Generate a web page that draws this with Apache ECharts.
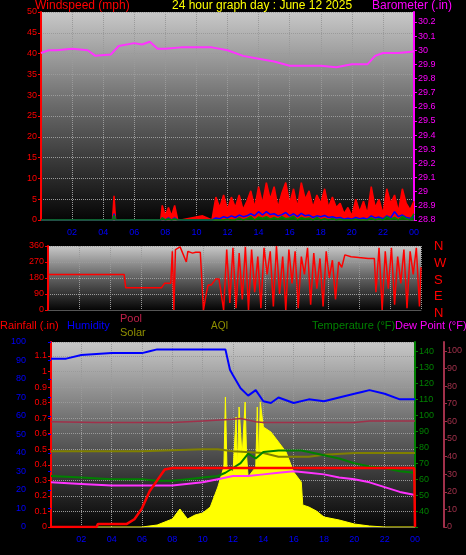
<!DOCTYPE html>
<html>
<head>
<meta charset="UTF-8" />
<title>24 hour graph</title>
<script src="https://cdn.jsdelivr.net/npm/echarts@6/dist/echarts.min.js"></script>
<style>
  body { margin: 0; background: #000; }
  #main { width: 466px; height: 555px; }
</style>
</head>
<body>
<div id="main"></div>
<script>
// ---- top panel: wind + barometer ----
var windTimes = [0, 4.6, 4.7, 4.8, 7.7, 7.8, 8.0, 8.2, 8.4, 8.6, 8.8, 9.0, 10.4, 11.0,
  11.25, 11.5, 11.75, 12, 12.25, 12.5, 12.75, 13, 13.25, 13.5, 13.75, 14, 14.25, 14.5, 14.75,
  15, 15.25, 15.5, 15.75, 16, 16.25, 16.5, 16.75, 17, 17.25, 17.5, 17.75, 18, 18.25, 18.5,
  18.75, 19, 19.25, 19.5, 19.75, 20, 20.25, 20.5, 20.75, 21, 21.25, 21.5, 21.75, 22, 22.25,
  22.5, 22.75, 23, 23.25, 23.5, 23.75, 24];
var windGust = [0, 0, 5.8, 0, 0, 3.5, 1, 3, 1, 3.5, 0, 0, 1, 0,
  5.5, 3, 6, 2.5, 5.5, 3, 6, 2.5, 4.5, 7, 3, 8, 4, 9, 5,
  8, 3, 6.5, 9, 4, 7.5, 3, 9, 5, 7, 3, 6, 4, 7.5, 3,
  5.5, 3, 4, 1.5, 3, 1, 5, 2, 4.5, 1.5, 8, 3, 5, 1.5, 7.5,
  4, 6, 2, 7.5, 4, 2.5, 4.5];
var windAvg = [0, 0, 1.5, 0, 0, 0.5, 0, 0.5, 0, 0.5, 0, 0, 0, 0,
  0.5, 0.3, 0.8, 0.5, 1, 0.6, 1.2, 0.8, 1, 1.5, 1, 2, 1.2, 2, 1.3,
  1.5, 1, 1.3, 1.8, 1, 1.5, 0.8, 1.6, 1, 1.2, 0.6, 1, 0.8, 1.1, 0.6,
  0.8, 0.5, 0.6, 0.2, 0.4, 0.2, 0.6, 0.3, 0.5, 0.2, 1, 0.5, 0.7, 0.3, 1,
  0.5, 2, 0.8, 1.2, 0.6, 0.4, 0.8];
var windLow = [0, 0, 1.2, 0, 0, 0.5, 0, 0.3, 0, 0.3, 0, 0, 0, 0,
  0, 0, 0, 0.2, 0, 0, 0.5, 0, 0.3, 0.8, 0, 0.7, 0.4, 0.8, 0.2,
  0.6, 0.2, 0.8, 0.3, 0.5, 0.9, 0, 0.6, 0.3, 0.5, 0, 0.6, 0, 0.3, 0,
  0.4, 0, 0.2, 0, 0, 0, 0.2, 0, 0, 0, 0.5, 0, 0.3, 0, 0.8,
  0.2, 0.6, 0, 0.9, 0.3, 0, 1.5];
var baroTimes = [0, 0.5, 1, 2, 3, 3.5, 4.5, 5, 6, 6.5, 7, 7.5, 8, 9, 10, 11, 12, 13, 14,
  15, 16, 17, 18, 19, 20, 21, 21.5, 22, 23, 24];
var baroValues = [29.98, 30.0, 30.0, 30.01, 30.0, 29.96, 29.97, 30.03, 30.05, 30.04, 30.06,
  30.01, 30.01, 30.02, 30.02, 30.02, 30.0, 29.96, 29.94, 29.92, 29.89, 29.89, 29.89, 29.88,
  29.9, 29.9, 29.96, 29.98, 29.98, 29.99];

// ---- middle panel: wind direction ----
var dirTimes = [0, 4.9, 5.0, 7.3, 7.5, 7.9, 8.0, 8.1, 8.2, 8.5, 8.9, 9.0, 9.3, 9.5, 9.8,
  10.0, 10.2, 10.3, 10.5, 10.8, 11.0, 11.3, 11.5, 11.7, 11.9, 12.1, 12.3, 12.5, 12.7, 12.9,
  13.1, 13.3, 13.5, 13.7, 13.9, 14.1, 14.3, 14.5, 14.7, 14.9, 15.1, 15.3, 15.5, 15.7, 15.9,
  16.1, 16.3, 16.5, 16.7, 16.9, 17.1, 17.3, 17.5, 17.7, 17.9, 18.1, 18.3, 18.5, 18.7, 18.9,
  19.1, 19.5, 20.0, 20.6, 21.0, 21.1, 21.3, 21.5, 21.7, 21.9, 22.1, 22.3, 22.5, 22.7, 22.9,
  23.1, 23.3, 23.5, 23.7, 23.9, 24.0];
var dirValues = [200, 200, 125, 125, 150, 150, 330, 0, 340, 355, 270, 330, 320, 325, 325,
  0, 100, 140, 140, 175, 175, 0, 340, 40, 350, 10, 320, 60, 355, 0,
  340, 100, 300, 10, 350, 200, 330, 20, 360, 90, 300, 0, 340, 150, 330,
  10, 300, 200, 350, 30, 320, 120, 290, 20, 330, 180, 280, 60, 270, 240,
  310, 300, 295, 290, 290, 100, 350, 0, 330, 120, 350, 30, 300, 150, 340,
  10, 330, 200, 350, 20, 240];

// ---- bottom panel ----
var humTimes = [0, 1, 2, 4, 6, 6.5, 7, 11.5, 11.8, 12, 12.5, 13, 13.5, 14, 14.5, 15, 16,
  17, 18, 19, 20, 20.5, 21, 22, 23, 24];
var humValues = [91, 91, 93, 94, 94, 95, 96, 96, 85, 82, 75, 71, 74, 68, 67, 70, 67,
  69, 68, 70, 72, 73, 74, 72, 69, 69];
var rainTimes = [0, 3.0, 3.1, 5.0, 5.5, 6.0, 6.5, 7.0, 7.5, 8.0, 23.95, 24];
var rainValues = [0, 0, 0.02, 0.02, 0.05, 0.12, 0.23, 0.3, 0.37, 0.38, 0.38, 0];
var tempTimes = [0, 2, 4, 6, 7, 8, 9, 10, 11, 11.5, 12, 12.5, 13, 13.5, 14, 15, 16, 16.5,
  17, 18, 19, 20, 21, 22, 23, 24];
var tempValues = [62, 61, 60, 60, 59, 59, 60, 61, 62, 64, 67, 70, 76, 73, 77, 78, 78, 78,
  77, 75, 73, 70, 68, 67, 65, 64];
var dewTimes = [0, 2, 4, 6, 8, 10, 11, 12, 13, 14, 15, 16, 17, 18, 19, 20, 20.5, 21, 22,
  23, 24];
var dewValues = [58, 57, 56, 56, 56, 58, 60, 62, 62, 63, 64, 65, 64, 63, 61, 60, 59, 58,
  55, 52, 50];
var poolTimes = [0, 3, 8, 10, 12, 12.5, 13.5, 14, 20, 21, 24];
var poolValues = [96, 95.5, 95.5, 96.5, 97.5, 98, 96, 95.5, 95.5, 96.5, 96.5];
var aqiTimes = [0, 2, 4, 6, 8, 10, 11, 12, 14, 15, 17, 18, 20, 22, 24];
var aqiValues = [41, 41, 41, 41, 41.5, 42, 42, 41, 40, 38, 38, 39, 40, 40, 40];
var solarTimes = [0, 6, 7, 8, 8.5, 9, 9.5, 10, 10.5, 11, 11.4, 11.5, 11.6, 12, 12.2, 12.3,
  12.4, 12.6, 12.8, 12.9, 13, 13.5, 13.6, 13.7, 13.8, 14, 14.5, 15, 15.5, 16, 16.5, 16.6,
  17, 17.5, 18, 19, 20, 21, 22, 24];
var solarValues = [0, 0, 2, 8, 18, 8, 12, 14, 20, 40, 60, 130, 60, 55, 110, 60, 120, 70,
  125, 70, 50, 60, 120, 60, 125, 100, 95, 85, 75, 55, 45, 22, 20, 16, 10, 7, 3, 1, 0, 0];

function pairs(t, v) { return t.map(function (x, i) { return [x, v[i]]; }); }
function hourLabel(v) {
  if (v === 0) return "";
  var h = v % 24;
  return (h < 10 ? "0" : "") + h;
}

var bg = {
  type: "linear", x: 0, y: 0, x2: 0, y2: 1,
  colorStops: [{ offset: 0, color: "#c8c8c8" }, { offset: 0.45, color: "#6a6a6a" }, { offset: 1, color: "#050505" }]
};
var split = { show: true, lineStyle: { color: "#9a9a9a", type: "dotted", width: 1 } };
var fnt = "Liberation Sans, Arial, sans-serif";

function yAx(o) {
  var base = {
    type: "value",
    axisLine: { show: true, lineStyle: { color: o.color, width: 2 } },
    axisTick: { show: true, length: 3, lineStyle: { color: o.color } },
    axisLabel: { color: o.color, fontSize: 9, fontFamily: fnt, margin: 4, showMaxLabel: false },
    splitLine: { show: false }
  };
  return Object.assign(base, o.opts);
}

var xBase = {
  type: "value", min: 0, max: 24, interval: 2,
  axisLine: { show: true, lineStyle: { color: "#555" } },
  axisTick: { show: false },
  splitLine: split
};

var chart = echarts.init(document.getElementById("main"));
chart.setOption({
  backgroundColor: "#000",
  animation: false,
  textStyle: { fontFamily: fnt },
  graphic: [
    { type: "text", left: 35, top: 0, style: { text: "Windspeed (mph)", fill: "#ff0000", font: "12px " + fnt } },
    { type: "text", left: 172, top: 0, style: { text: "24 hour graph day : June 12 2025", fill: "#ffff00", font: "12px " + fnt } },
    { type: "text", left: 372, top: 0, style: { text: "Barometer (.in)", fill: "#ff00ff", font: "12px " + fnt } },
    { type: "text", left: 434, top: 238, style: { text: "N\nW\nS\nE\nN", fill: "#ff0000", font: "13px " + fnt, lineHeight: 16.8 } },
    { type: "text", left: 0, top: 320, style: { text: "Rainfall (.in)", fill: "#ff0000", font: "11px " + fnt } },
    { type: "text", left: 67, top: 320, style: { text: "Humidity", fill: "#0000ff", font: "11px " + fnt } },
    { type: "text", left: 120, top: 313, style: { text: "Pool", fill: "#c0204a", font: "11px " + fnt } },
    { type: "text", left: 120, top: 327, style: { text: "Solar", fill: "#909000", font: "11px " + fnt } },
    { type: "text", left: 211, top: 321, style: { text: "AQI", fill: "#909000", font: "10px " + fnt } },
    { type: "text", left: 312, top: 320, style: { text: "Temperature (°F)", fill: "#008000", font: "11px " + fnt } },
    { type: "text", left: 395, top: 320, style: { text: "Dew Point (°F)", fill: "#ff00ff", font: "11px " + fnt } }
  ],
  grid: [
    { left: 41, width: 373, top: 12, height: 208, show: true, borderWidth: 0, backgroundColor: bg },
    { left: 48, width: 373, top: 246, height: 64, show: true, borderWidth: 0, backgroundColor: bg },
    { left: 51, width: 364, top: 342, height: 185, show: true, borderWidth: 0, backgroundColor: bg }
  ],
  xAxis: [
    Object.assign({}, xBase, { gridIndex: 0, axisLabel: { color: "#0000ff", fontSize: 9, margin: 8, formatter: hourLabel } }),
    Object.assign({}, xBase, { gridIndex: 1, axisLabel: { show: false } }),
    Object.assign({}, xBase, { gridIndex: 2, axisLabel: { color: "#0000ff", fontSize: 9, margin: 8, formatter: hourLabel } })
  ],
  yAxis: [
    yAx({ color: "#ff0000", opts: { gridIndex: 0, position: "left", min: 0, max: 50, interval: 5, splitLine: split,
      axisLabel: { color: "#ff0000", fontSize: 9, margin: 4 } } }),
    yAx({ color: "#ff00ff", opts: { gridIndex: 0, position: "right", min: 28.8, max: 30.27, interval: 0.1,
      axisLabel: { color: "#ff00ff", fontSize: 9, margin: 4, showMaxLabel: false,
        formatter: function (v) { return +v.toFixed(1) + ""; } } } }),
    yAx({ color: "#ff0000", opts: { gridIndex: 1, position: "left", min: 0, max: 360, interval: 90, splitLine: split,
      axisLabel: { color: "#ff0000", fontSize: 9, margin: 4 } } }),
    yAx({ color: "#0000ff", opts: { gridIndex: 2, position: "left", min: 0, max: 100, interval: 10, offset: 21,
      axisLabel: { color: "#0000ff", fontSize: 9, margin: 4 } } }),
    yAx({ color: "#ff0000", opts: { gridIndex: 2, position: "left", min: 0, max: 1.19, interval: 0.1, splitLine: split,
      axisLabel: { color: "#ff0000", fontSize: 9, margin: 4, showMaxLabel: false,
        formatter: function (v) { return +v.toFixed(1) + ""; } } } }),
    yAx({ color: "#008000", opts: { gridIndex: 2, position: "right", min: 30, max: 146, interval: 10,
      axisLabel: { color: "#008000", fontSize: 9, margin: 4, showMaxLabel: false,
        formatter: function (v) { return v < 40 ? "" : v; } } } }),
    yAx({ color: "#a0304a", opts: { gridIndex: 2, position: "right", offset: 29, min: 0, max: 105, interval: 10,
      axisLabel: { color: "#a0304a", fontSize: 9, margin: 3, showMaxLabel: false } } }),
    { type: "value", gridIndex: 2, position: "right", min: 0, max: 185, show: false }
  ],
  series: [
    { type: "line", xAxisIndex: 0, yAxisIndex: 0, data: pairs(windTimes, windGust), symbol: "none",
      lineStyle: { color: "#ff0000", width: 1.5 }, areaStyle: { color: "#ff0000", opacity: 1 } },
    { type: "line", xAxisIndex: 0, yAxisIndex: 0, data: pairs(windTimes, windAvg), symbol: "none",
      lineStyle: { color: "#0000ff", width: 1.5 } },
    { type: "line", xAxisIndex: 0, yAxisIndex: 0, data: pairs(windTimes, windLow), symbol: "none",
      lineStyle: { color: "#008000", width: 1.5 }, areaStyle: { color: "#007000", opacity: 1 } },
    { type: "line", xAxisIndex: 0, yAxisIndex: 1, data: pairs(baroTimes, baroValues), symbol: "none",
      lineStyle: { color: "#ff33ff", width: 2 } },
    { type: "line", xAxisIndex: 1, yAxisIndex: 2, data: pairs(dirTimes, dirValues), symbol: "none",
      lineStyle: { color: "#ff0000", width: 1.5 } },
    { type: "line", xAxisIndex: 2, yAxisIndex: 7, data: pairs(solarTimes, solarValues), symbol: "none",
      lineStyle: { color: "#ffff00", width: 1 }, areaStyle: { color: "#ffff00", opacity: 1 } },
    { type: "line", xAxisIndex: 2, yAxisIndex: 3, data: pairs(aqiTimes, aqiValues), symbol: "none",
      lineStyle: { color: "#808000", width: 2 } },
    { type: "line", xAxisIndex: 2, yAxisIndex: 5, data: pairs(poolTimes, poolValues), symbol: "none",
      lineStyle: { color: "#a0304a", width: 1.5 } },
    { type: "line", xAxisIndex: 2, yAxisIndex: 5, data: pairs(tempTimes, tempValues), symbol: "none",
      lineStyle: { color: "#008000", width: 2 } },
    { type: "line", xAxisIndex: 2, yAxisIndex: 5, data: pairs(dewTimes, dewValues), symbol: "none",
      lineStyle: { color: "#ff33ff", width: 2 } },
    { type: "line", xAxisIndex: 2, yAxisIndex: 3, data: pairs(humTimes, humValues), symbol: "none",
      lineStyle: { color: "#0000ff", width: 2 } },
    { type: "line", xAxisIndex: 2, yAxisIndex: 4, data: pairs(rainTimes, rainValues), symbol: "none",
      lineStyle: { color: "#ff0000", width: 2.5 } }
  ]
});
</script>
</body>
</html>
